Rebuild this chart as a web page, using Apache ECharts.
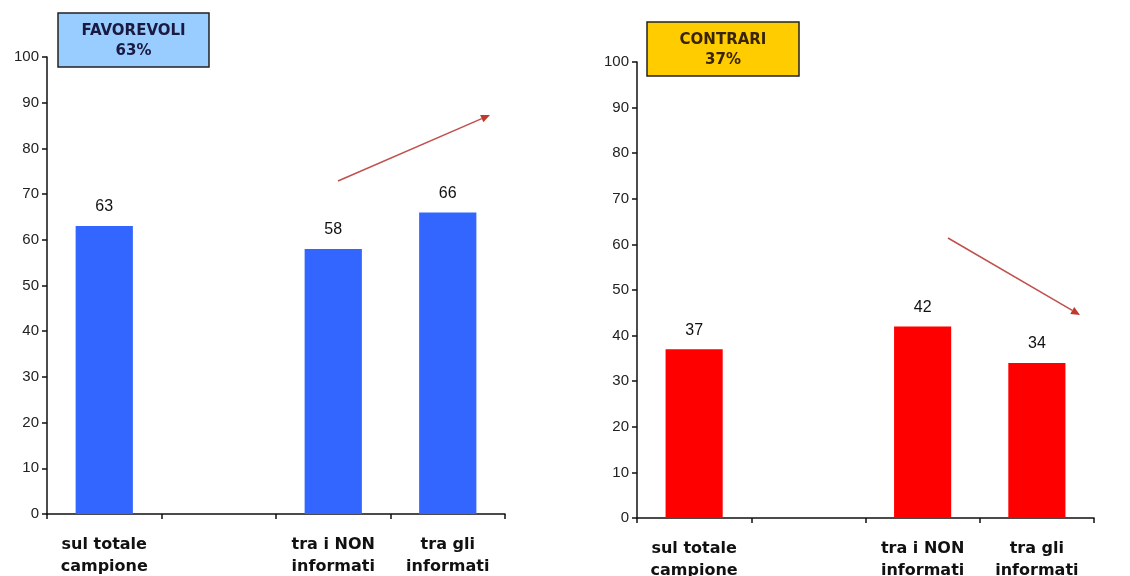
<!DOCTYPE html>
<html><head><meta charset="utf-8">
<script src="https://cdn.jsdelivr.net/npm/echarts@6/dist/echarts.min.js"></script>
<style>html,body{margin:0;padding:0;background:#fff}#c{width:1130px;height:576px}</style>
</head><body><div id="c"></div>
<script>
const categories = ['sul totale\ncampione', '', 'tra i NON\ninformati', 'tra gli\ninformati'];
const favorevoli = [63, null, 58, 66];
const contrari = [37, null, 42, 34];
const yTicks = {min: 0, max: 100, interval: 10};
const boxFav = ['FAVOREVOLI', '63%'];
const boxCon = ['CONTRARI', '37%'];

const chart = echarts.init(document.getElementById('c'));
const catFont = {fontFamily: 'DejaVu Sans', fontWeight: 'bold', fontSize: 16, color: '#111', lineHeight: 22};
function xAx(g) {
  return {type: 'category', gridIndex: g, data: categories, boundaryGap: true,
    axisLine: {lineStyle: {color: '#111', width: 1.5}},
    axisTick: {show: true, interval: 0, length: 5, lineStyle: {color: '#111', width: 1.5}},
    axisLabel: Object.assign({interval: 0, margin: 20}, catFont)};
}
function yAx(g) {
  return {type: 'value', gridIndex: g, min: yTicks.min, max: yTicks.max, interval: yTicks.interval,
    splitLine: {show: false},
    axisLine: {show: true, lineStyle: {color: '#111', width: 1.5}},
    axisTick: {show: true, length: 5, lineStyle: {color: '#111', width: 1.5}},
    axisLabel: {fontFamily: 'Liberation Sans', fontSize: 15, color: '#222', margin: 8}};
}
const lbl = {show: true, position: 'top', distance: 11, fontFamily: 'Liberation Sans', fontSize: 16, color: '#111'};
function box(x, y, w, h, fill, txt, tc) {
  return {type: 'group', children: [
    {type: 'rect', shape: {x: x, y: y, width: w, height: h}, style: {fill: fill, stroke: '#222', lineWidth: 1.5}},
    {type: 'text', x: x + w / 2, y: y + h / 2 + 1, style: {text: txt.join('\n'), fill: tc, align: 'center', verticalAlign: 'middle',
      font: 'bold 15px "DejaVu Sans"', lineHeight: 20}}
  ]};
}
function arrow(x1, y1, x2, y2) {
  const a = Math.atan2(y2 - y1, x2 - x1), L = 9, W = 4;
  const bx = x2 - L * Math.cos(a), by = y2 - L * Math.sin(a);
  const px = -Math.sin(a) * W, py = Math.cos(a) * W;
  return {type: 'group', children: [
    {type: 'line', shape: {x1: x1, y1: y1, x2: bx, y2: by}, style: {stroke: '#c0504d', lineWidth: 1.5}},
    {type: 'polygon', shape: {points: [[x2, y2], [bx + px, by + py], [bx - px, by - py]]}, style: {fill: '#c0392b'}}
  ]};
}
chart.setOption({
  animation: false,
  grid: [
    {left: 47, top: 57, width: 458, height: 457, outerBoundsMode: 'none', containLabel: false},
    {left: 637, top: 62, width: 457, height: 456, outerBoundsMode: 'none', containLabel: false}
  ],
  xAxis: [xAx(0), xAx(1)],
  yAxis: [yAx(0), yAx(1)],
  series: [
    {type: 'bar', xAxisIndex: 0, yAxisIndex: 0, data: favorevoli, barWidth: '50%', itemStyle: {color: '#3366ff'}, label: lbl},
    {type: 'bar', xAxisIndex: 1, yAxisIndex: 1, data: contrari, barWidth: '50%', itemStyle: {color: '#ff0000'}, label: lbl}
  ],
  graphic: [
    box(58, 13, 151, 54, '#99ccff', boxFav, '#1a1a40'),
    box(647, 22, 152, 54, '#ffcc00', boxCon, '#3a2400'),
    arrow(338, 181, 490, 115),
    arrow(948, 238, 1080, 315)
  ]
});
</script></body></html>
